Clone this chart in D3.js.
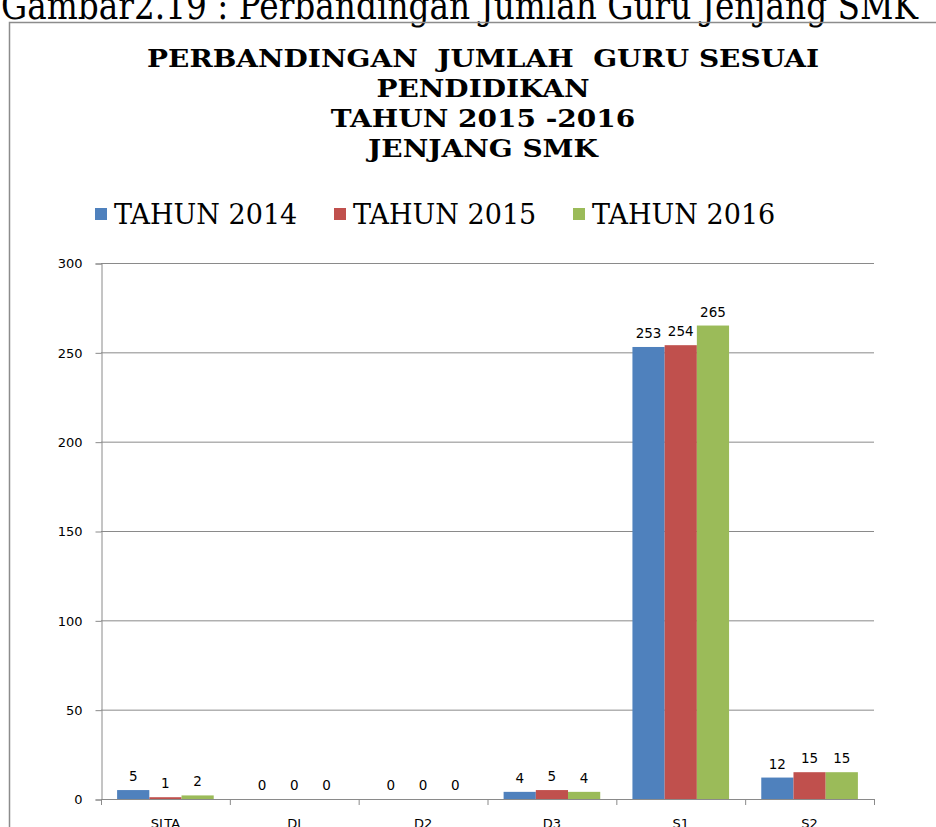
<!DOCTYPE html>
<html>
<head>
<meta charset="utf-8">
<script src="https://cdn.jsdelivr.net/npm/d3@7"></script>
<style>
  body { margin: 0; background: #fff; overflow: hidden; }
  .tick-label { font-family: "DejaVu Sans", Verdana, sans-serif; font-size: 13px; fill: #000; }
  .data-label { font-family: "DejaVu Sans", Verdana, sans-serif; font-size: 13.5px; fill: #000; }
  .legend-text { font-family: "DejaVu Serif", serif; font-size: 27px; fill: #000; }
  .title { font-family: "DejaVu Serif", serif; font-weight: bold; fill: #000; }
</style>
</head>
<body>
<div id="chart"></div>
<script>

// Data
var categories = ["SLTA", "DI", "D2", "D3", "S1", "S2"];
var seriesNames = ["TAHUN 2014", "TAHUN 2015", "TAHUN 2016"];
var tahun2014 = [5, 0, 0, 4, 253, 12];
var tahun2015 = [1, 0, 0, 5, 254, 15];
var tahun2016 = [2, 0, 0, 4, 265, 15];
var yTicks = [0, 50, 100, 150, 200, 250, 300];
var titleLines = ["PERBANDINGAN  JUMLAH  GURU SESUAI", "PENDIDIKAN", "TAHUN 2015 -2016", "JENJANG SMK"];
var caption = "Gambar2.19 : Perbandingan Jumlah Guru Jenjang SMK";
var colors = ["#4F81BD", "#C0504D", "#9BBB59"];

var seriesValues = [tahun2014, tahun2015, tahun2016];

// Size
var width = 936;
var height = 827;

var svg = d3.select("#chart").append("svg")
    .attr("width", width)
    .attr("height", height);

// Caption above the frame (cut off at top like in the scan)
svg.append("text")
    .attr("x", 1)
    .attr("y", 19)
    .attr("textLength", 917)
    .attr("lengthAdjust", "spacingAndGlyphs")
    .style("font-family", "'DejaVu Serif', serif")
    .style("font-size", "40px")
    .text(caption);

// Frame of the chart
svg.append("rect")
    .attr("x", 9.5)
    .attr("y", 22.5)
    .attr("width", 1000)
    .attr("height", 1000)
    .attr("fill", "none")
    .attr("stroke", "#8c8c8c")
    .attr("stroke-width", 1.5);

// Title, stretched wide like the original font
var titleSize = 25;
var title = svg.append("g");
var titleTexts = titleLines.map(function(t, i) {
  return title.append("text")
      .attr("class", "title")
      .attr("x", 483)
      .attr("y", 67 + i * 30)
      .attr("text-anchor", "middle")
      .attr("xml:space", "preserve")
      .style("white-space", "pre")
      .style("font-size", titleSize + "px")
      .text(t);
});
var stretch = 672 / titleTexts[0].node().getComputedTextLength();
titleTexts.forEach(function(t) {
  t.attr("textLength", t.node().getComputedTextLength() * stretch)
   .attr("lengthAdjust", "spacingAndGlyphs");
});

// Scales
var xScale = d3.scaleBand()
    .domain(categories)
    .range([101, 874])
    .paddingInner(0.25)
    .paddingOuter(0.125);

var xInner = d3.scaleBand()
    .domain(d3.range(seriesNames.length))
    .range([0, xScale.bandwidth()]);

var yScale = d3.scaleLinear()
    .domain([0, 300])
    .range([799, 263]);

// Legend
var legendX = d3.scalePoint()
    .domain(seriesNames)
    .range([95, 573]);

var legend = svg.selectAll(".legend")
    .data(seriesNames)
  .enter().append("g")
    .attr("class", "legend")
    .attr("transform", function(d) { return "translate(" + legendX(d) + ",214)"; });

legend.append("rect")
    .attr("x", 0)
    .attr("y", -6)
    .attr("width", 12)
    .attr("height", 12)
    .attr("fill", function(d, i) { return colors[i]; });

legend.append("text")
    .attr("class", "legend-text")
    .attr("x", 19)
    .attr("y", 9.5)
    .text(function(d) { return d; });

// Gridlines
svg.selectAll(".grid")
    .data(yTicks.slice(1))
  .enter().append("line")
    .attr("x1", 101)
    .attr("x2", 874)
    .attr("y1", function(d) { return yScale(d) + 0.5; })
    .attr("y2", function(d) { return yScale(d) + 0.5; })
    .attr("stroke", "#8a8a8a")
    .attr("stroke-width", 1);

// Y axis
var yAxis = svg.append("g")
    .attr("transform", "translate(101.5,0.5)")
    .call(d3.axisLeft(yScale).tickValues(yTicks).tickSize(6).tickPadding(13));
yAxis.select(".domain").attr("stroke", "#8a8a8a");
yAxis.selectAll(".tick line").attr("stroke", "#8a8a8a");
yAxis.selectAll(".tick text")
    .attr("class", "tick-label")
    .attr("fill", "#000")
    .style("font-size", "13px")
    .style("font-family", "'DejaVu Sans', sans-serif");

// X axis line and ticks at the category borders
var step = xScale.step();
var x0 = xScale.range()[0];
svg.append("line")
    .attr("x1", x0)
    .attr("x2", xScale.range()[1])
    .attr("y1", yScale(0) + 0.5)
    .attr("y2", yScale(0) + 0.5)
    .attr("stroke", "#8a8a8a");

svg.selectAll(".xtick")
    .data(d3.range(categories.length + 1))
  .enter().append("line")
    .attr("x1", function(i) { return x0 + i * step + 0.5; })
    .attr("x2", function(i) { return x0 + i * step + 0.5; })
    .attr("y1", yScale(0))
    .attr("y2", yScale(0) + 6)
    .attr("stroke", "#8a8a8a");

// category labels sit at the bottom edge, partly cut like the scan
svg.selectAll(".xlabel")
    .data(categories)
  .enter().append("text")
    .attr("class", "tick-label")
    .attr("x", function(d) { return xScale(d) + xScale.bandwidth() / 2; })
    .attr("y", 828)
    .attr("text-anchor", "middle")
    .text(function(d) { return d; });

// Bars
var groups = svg.selectAll(".series")
    .data(seriesValues)
  .enter().append("g")
    .attr("class", "series");

groups.selectAll("rect")
    .data(function(vals, s) { return vals.map(function(v, i) { return {s: s, c: categories[i], v: v}; }); })
  .enter().append("rect")
    .attr("x", function(d) { return xScale(d.c) + xInner(d.s); })
    .attr("y", function(d) { return yScale(d.v); })
    .attr("width", xInner.bandwidth())
    .attr("height", function(d) { return yScale(0) - yScale(d.v); })
    .attr("fill", function(d) { return colors[d.s]; });

// Data labels
groups.selectAll(".data-label")
    .data(function(vals, s) { return vals.map(function(v, i) { return {s: s, c: categories[i], v: v}; }); })
  .enter().append("text")
    .attr("class", "data-label")
    .attr("x", function(d) { return xScale(d.c) + xInner(d.s) + xInner.bandwidth() / 2; })
    .attr("y", function(d) { return yScale(d.v) - 9; })
    .attr("text-anchor", "middle")
    .text(function(d) { return d.v; });

</script>
</body>
</html>
